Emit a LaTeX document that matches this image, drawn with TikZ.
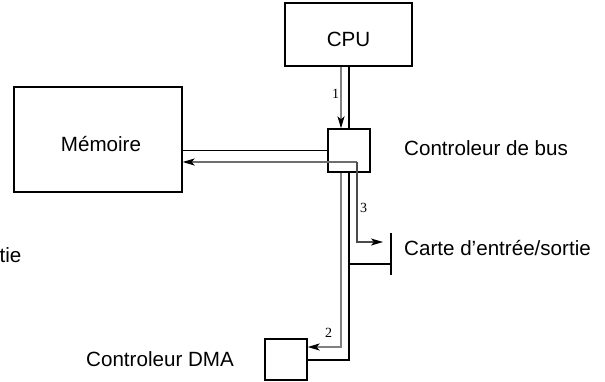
\documentclass[tikz,border=0pt]{standalone}
\usepackage{fontspec}
\setmainfont{Liberation Sans}
\newfontfamily\numfont{Liberation Serif}
\usetikzlibrary{arrows.meta}
\definecolor{lgray}{RGB}{128,128,128}
\definecolor{mgray}{RGB}{110,110,110}
\definecolor{dgray}{RGB}{75,75,75}
\begin{document}
\begin{tikzpicture}[x=1pt,y=-1pt,
  box/.style={draw, line width=1.3pt, inner sep=0pt},
  txt/.style={inner sep=0pt, font=\fontsize{20.6}{24}\selectfont, text height=14.75pt, text depth=0pt},
  num/.style={inner sep=0pt, font=\numfont\fontsize{14}{16}\selectfont},
  blk/.style={line width=1.3pt, black},
  gry/.style={line width=1.6pt, lgray},
  mgry/.style={line width=1.5pt, mgray},
  dgry/.style={line width=1.4pt, dgray},
  arr/.style={-{Stealth[length=12pt,width=7pt,inset=3pt,black]}}
]
\useasboundingbox (0,0) rectangle (605,381);

% boxes
\node[box, minimum width=127pt, minimum height=63pt] (cpu) at (348.5,34.5) {};
\node[txt] (cputxt) at (348.5,39) {CPU};
\node[box, minimum width=168pt, minimum height=105pt] (mem) at (98,139.5) {};
\node[txt] (memtxt) at (101,143.8) {Mémoire};
\node[box, minimum width=42pt, minimum height=43pt] (bus) at (349,150.5) {};
\node[box, minimum width=42pt, minimum height=41pt] (dma) at (286,359.5) {};

% labels
\node[txt, anchor=west] (bustxt) at (404,148) {Controleur de bus};
\node[txt, anchor=west] (cartetxt) at (404,248.3) {Carte d’entrée/sortie};
\node[txt, anchor=west] (dmatxt) at (86,358.7) {Controleur DMA};
\node[txt, anchor=east] (tietxt) at (21.5,255) {tie};

\node[num] (n1) at (335.5,94.3) {1};
\node[num] (n3) at (363.5,208) {3};
\node[num] (n2) at (328.5,333) {2};

% helper coordinates
\coordinate (xa) at (341,0);
\coordinate (xb) at (349,0);
\coordinate (j) at (357,162);
\coordinate (c3) at (357,242);
\coordinate (c3e) at (383,242);
\coordinate (bar1) at (391,233);
\coordinate (bar2) at (391,275);
\coordinate (b3) at (349,264);
\coordinate (d2) at (341,347);
\coordinate (d1) at (349,360);

% connectors
\draw[gry, arr] (cpu.south -| xa) -- (bus.north -| xa);
\draw[blk] (cpu.south -| xb) -- (bus.north -| xb);
\draw[blk] (bus.west) -- (bus.west -| mem.east);
\draw[mgry, arr] (j) -- (j -| mem.east);
\draw[dgry, arr] (j) -- (c3) -- (c3e);
\draw[blk] (bar1) -- (bar2);
\draw[blk] (bus.south -| xb) -- (d1) -- (d1 -| dma.east);
\draw[blk] (b3) -- (b3 -| bar1);
\draw[gry, arr] (bus.south -| xa) -- (d2) -- (d2 -| dma.east);
\end{tikzpicture}
\end{document}
